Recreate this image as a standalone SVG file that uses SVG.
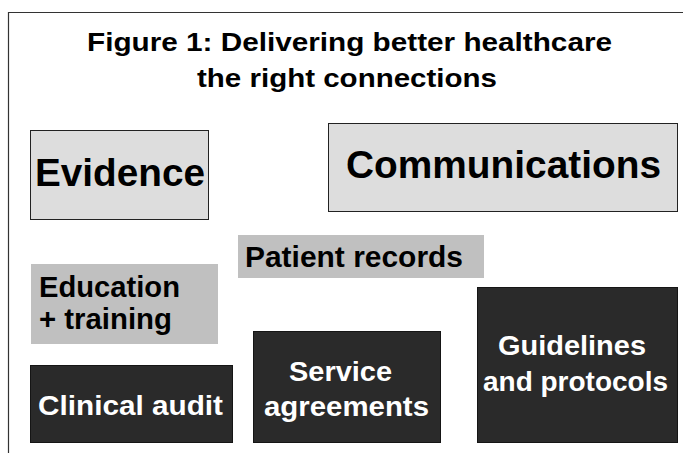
<svg xmlns="http://www.w3.org/2000/svg" width="683" height="455" viewBox="0 0 683 455">
<style>
text{font-family:"Liberation Sans",Arial,sans-serif;font-weight:bold;text-anchor:start}
.light rect{fill:#dddddd;stroke:#222;stroke-width:1}
.mid rect{fill:#c0c0c0}
.dark rect{fill:#2a2a2a;stroke:#151515;stroke-width:1}
.dark text{fill:#fff}
.light text,.mid text,.title text{fill:#000}
</style>
<rect width="683" height="455" fill="#fff"/>
<g id="frame" fill="none" stroke="#333" stroke-width="1.2">
<path d="M8.5,453 V12.5 H683"/>
</g>
<g class="title" id="title">
<text x="87" y="51" font-size="26" textLength="525" lengthAdjust="spacingAndGlyphs">Figure 1: Delivering better healthcare</text>
<text x="197" y="87" font-size="26" textLength="300" lengthAdjust="spacingAndGlyphs">the right connections</text>
</g>
<g id="connectors"></g>
<g id="evidence" class="light">
<rect x="30.5" y="130.5" width="178" height="89"/>
<text x="35" y="186" font-size="38" textLength="170" lengthAdjust="spacingAndGlyphs">Evidence</text>
</g>
<g id="communications" class="light">
<rect x="328.5" y="123.5" width="349" height="88"/>
<text x="346" y="178" font-size="38" textLength="315" lengthAdjust="spacingAndGlyphs">Communications</text>
</g>
<g id="patient-records" class="mid">
<rect x="238" y="235" width="246" height="43"/>
<text x="245" y="267" font-size="29" textLength="218" lengthAdjust="spacingAndGlyphs">Patient records</text>
</g>
<g id="education" class="mid">
<rect x="31" y="264" width="187" height="80"/>
<text x="39" y="297" font-size="29" textLength="141" lengthAdjust="spacingAndGlyphs">Education</text>
<text x="39" y="329" font-size="29" textLength="133" lengthAdjust="spacingAndGlyphs">+ training</text>
</g>
<g id="clinical-audit" class="dark">
<rect x="30.5" y="365.5" width="202" height="77"/>
<text x="38" y="415" font-size="28" textLength="185" lengthAdjust="spacingAndGlyphs">Clinical audit</text>
</g>
<g id="service-agreements" class="dark">
<rect x="253.5" y="331.5" width="187" height="111"/>
<text x="289" y="381" font-size="28" textLength="103" lengthAdjust="spacingAndGlyphs">Service</text>
<text x="264" y="416" font-size="28" textLength="165" lengthAdjust="spacingAndGlyphs">agreements</text>
</g>
<g id="guidelines" class="dark">
<rect x="477.5" y="287.5" width="200" height="155"/>
<text x="498" y="355" font-size="28" textLength="148" lengthAdjust="spacingAndGlyphs">Guidelines</text>
<text x="483" y="391" font-size="28" textLength="185" lengthAdjust="spacingAndGlyphs">and protocols</text>
</g>
</svg>
